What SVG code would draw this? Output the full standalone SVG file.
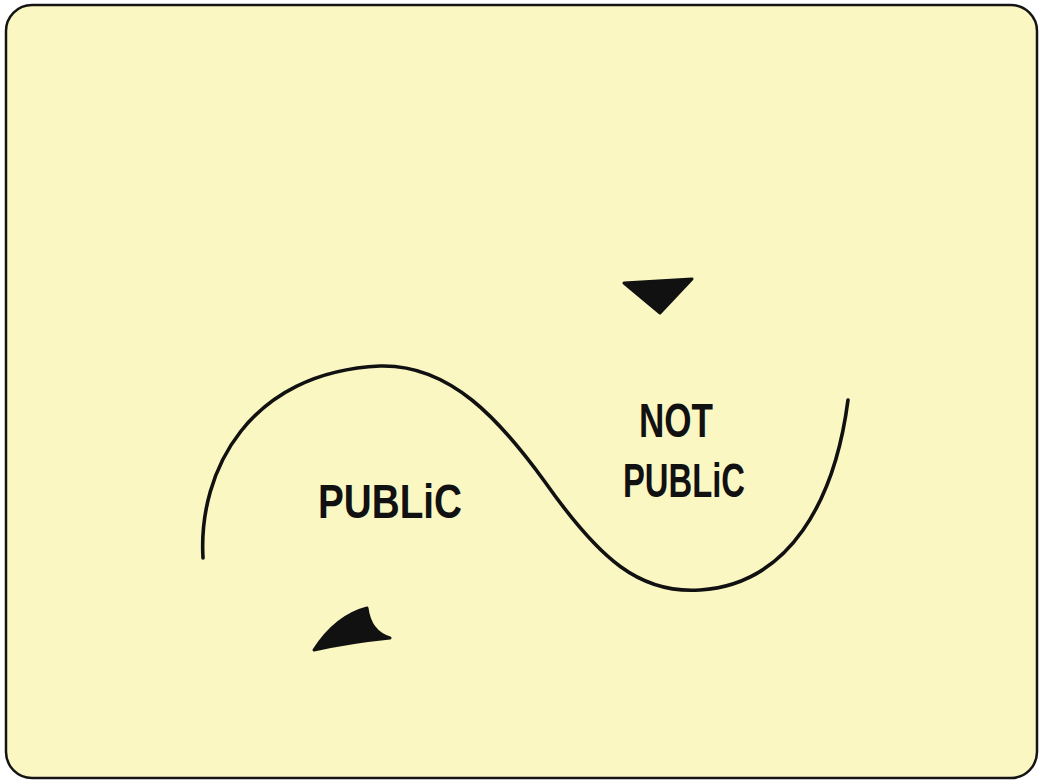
<svg xmlns="http://www.w3.org/2000/svg" width="1043" height="783" viewBox="0 0 1043 783">
<style>
.ink{fill:none;stroke:#111;stroke-width:3.6;stroke-linecap:round;stroke-linejoin:round}
.solid{fill:#111;stroke:#111;stroke-width:3;stroke-linejoin:round}
.lbl{font-family:"Liberation Sans",Arial,sans-serif;font-weight:bold;fill:#111;text-anchor:middle}
</style>
<rect width="1043" height="783" fill="#ffffff"/>
<rect x="6" y="5" width="1031" height="773" rx="26" ry="26" fill="#fbf7c3" stroke="#151515" stroke-width="2.5"/>
<g id="connectors">
<path class="ink" d="M203,558 C198,470 250,372 380,366 C450,364 500,420 545,482 C600,560 640,594 700,590 C790,584 835,500 848,400"/>
</g>
<g id="marker-top">
<polygon class="solid" points="624,283 692,279 660,313"/>
</g>
<g id="marker-bottom">
<path class="solid" d="M314,650 Q336,616 367,608 Q370,632 390,638 Q350,642 314,650 Z"/>
</g>
<g id="label-public">
<text class="lbl" x="390" y="518" font-size="48" textLength="144" lengthAdjust="spacingAndGlyphs">PUBLiC</text>
</g>
<g id="label-not-public">
<text class="lbl" x="676" y="437" font-size="48" textLength="74" lengthAdjust="spacingAndGlyphs">NOT</text>
<text class="lbl" x="684" y="497" font-size="48" textLength="122" lengthAdjust="spacingAndGlyphs">PUBLiC</text>
</g>
</svg>
